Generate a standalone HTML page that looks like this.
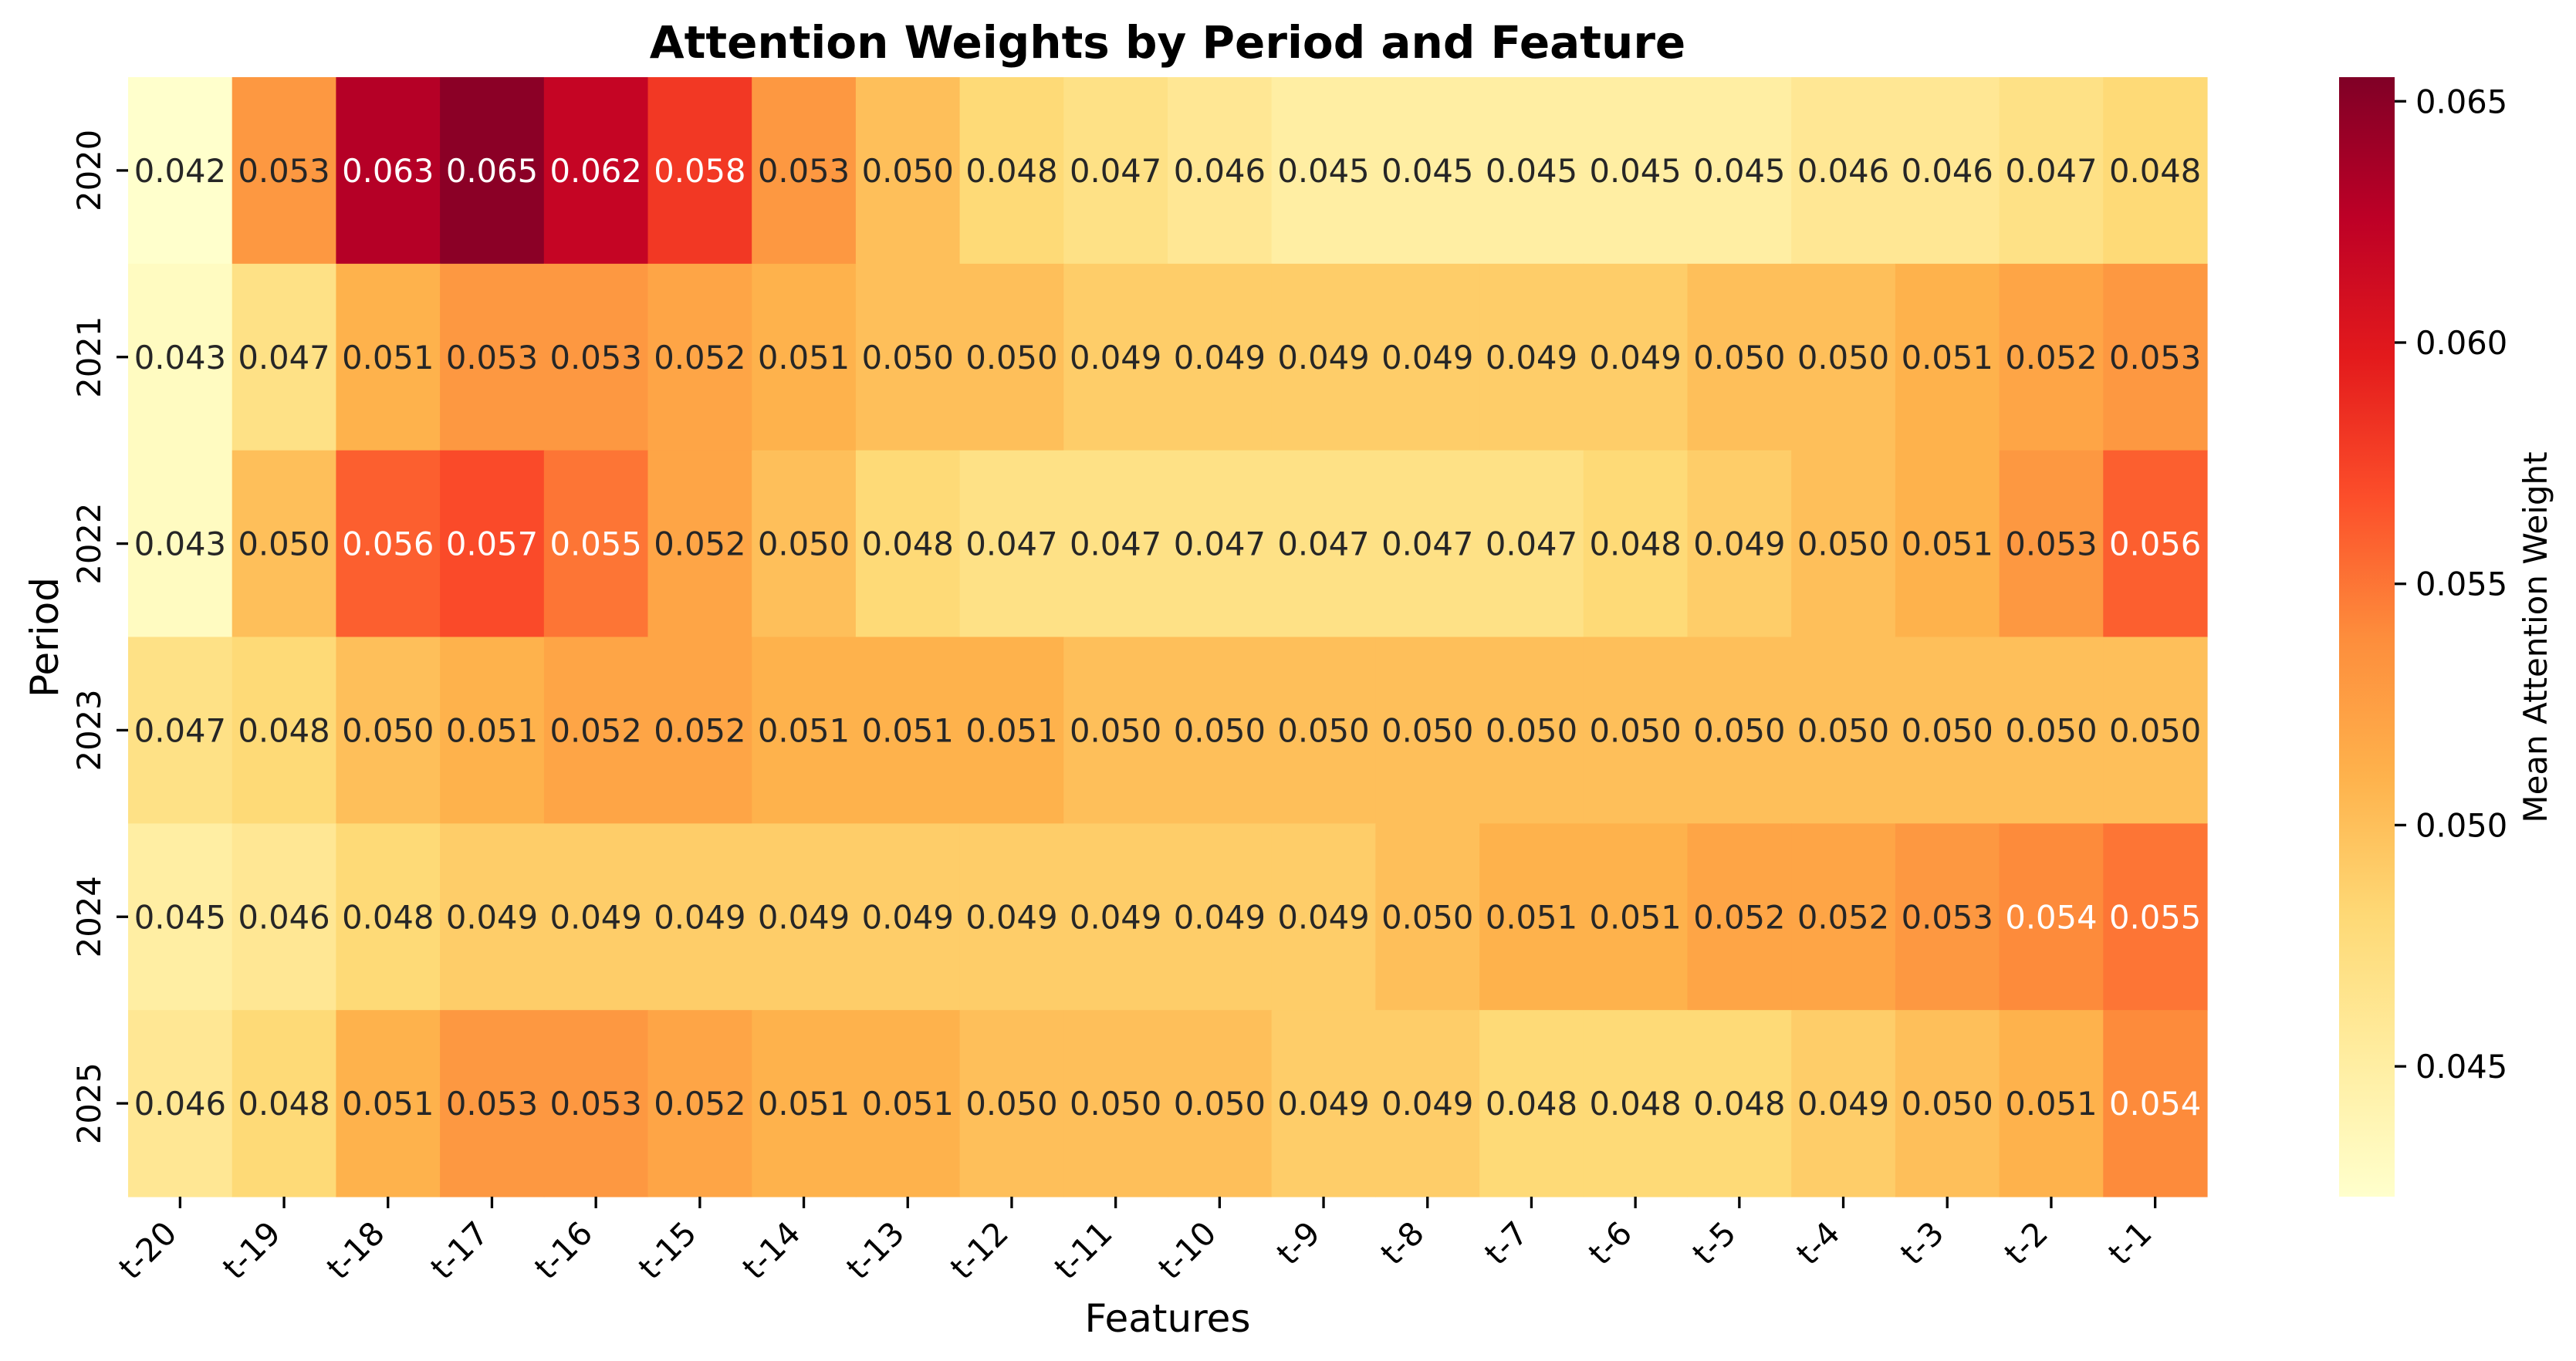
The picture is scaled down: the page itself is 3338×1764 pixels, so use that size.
<!DOCTYPE html>
<html><head><meta charset="utf-8">
<style>
html,body{margin:0;padding:0;background:#fff;}
svg{display:block;font-family:"DejaVu Sans","Liberation Sans",sans-serif;}
</style></head>
<body>
<svg id="chart" width="3338" height="1764" viewBox="0 0 3338 1764" xmlns="http://www.w3.org/2000/svg">
<defs>
<linearGradient id="cbgrad" x1="0" y1="1" x2="0" y2="0">
<stop offset="0" stop-color="#ffffcc"/><stop offset="0.125" stop-color="#ffeda0"/><stop offset="0.25" stop-color="#fed976"/><stop offset="0.375" stop-color="#feb24c"/><stop offset="0.5" stop-color="#fd8d3c"/><stop offset="0.625" stop-color="#fc4e2a"/><stop offset="0.75" stop-color="#e31a1c"/><stop offset="0.875" stop-color="#bd0026"/><stop offset="1" stop-color="#800026"/>
</linearGradient>
</defs>
<text x="1513" y="75" text-anchor="middle" font-size="58" font-weight="bold">Attention Weights by Period and Feature</text>
<g id="cells"></g>
<g id="xticks"></g>
<g id="yticks"></g>
<text x="1513" y="1726" text-anchor="middle" font-size="50">Features</text>
<text transform="translate(75,826) rotate(-90)" text-anchor="middle" font-size="50">Period</text>
<rect x="3031" y="100" width="72" height="1451" fill="url(#cbgrad)"/>
<g id="cbticks"></g>
<text transform="translate(3300,826) rotate(-90)" text-anchor="middle" font-size="42">Mean Attention Weight</text>
</svg>
<script>
const features = ["t-20","t-19","t-18","t-17","t-16","t-15","t-14","t-13","t-12","t-11","t-10","t-9","t-8","t-7","t-6","t-5","t-4","t-3","t-2","t-1"];
const periods = ["2020","2021","2022","2023","2024","2025"];
const row2020 = [0.042,0.053,0.063,0.065,0.062,0.058,0.053,0.050,0.048,0.047,0.046,0.045,0.045,0.045,0.045,0.045,0.046,0.046,0.047,0.048];
const row2021 = [0.043,0.047,0.051,0.053,0.053,0.052,0.051,0.050,0.050,0.049,0.049,0.049,0.049,0.049,0.049,0.050,0.050,0.051,0.052,0.053];
const row2022 = [0.043,0.050,0.056,0.057,0.055,0.052,0.050,0.048,0.047,0.047,0.047,0.047,0.047,0.047,0.048,0.049,0.050,0.051,0.053,0.056];
const row2023 = [0.047,0.048,0.050,0.051,0.052,0.052,0.051,0.051,0.051,0.050,0.050,0.050,0.050,0.050,0.050,0.050,0.050,0.050,0.050,0.050];
const row2024 = [0.045,0.046,0.048,0.049,0.049,0.049,0.049,0.049,0.049,0.049,0.049,0.049,0.050,0.051,0.051,0.052,0.052,0.053,0.054,0.055];
const row2025 = [0.046,0.048,0.051,0.053,0.053,0.052,0.051,0.051,0.050,0.050,0.050,0.049,0.049,0.048,0.048,0.048,0.049,0.050,0.051,0.054];
const colorTicks = [0.045,0.050,0.055,0.060,0.065];
const vmin = 0.0423, vmax = 0.0655;

const rows = [row2020,row2021,row2022,row2023,row2024,row2025];
const NS = "http://www.w3.org/2000/svg";
const L = 166, T = 100, R = 2860, B = 1551;
const cw = (R - L) / features.length, ch = (B - T) / periods.length;
const xPos = i => L + i * cw;
const yPos = j => T + j * ch;
const cbY = v => B - (v - vmin) / (vmax - vmin) * (B - T);
const stops = ["#ffffcc","#ffeda0","#fed976","#feb24c","#fd8d3c","#fc4e2a","#e31a1c","#bd0026","#800026"].map(h => [parseInt(h.slice(1,3),16),parseInt(h.slice(3,5),16),parseInt(h.slice(5,7),16)]);
function cmap(v){
  let t = Math.max(0, Math.min(1, (v - vmin) / (vmax - vmin))) * (stops.length - 1);
  let i = Math.min(stops.length - 2, Math.floor(t)), f = t - i;
  return stops[i].map((c,k) => Math.round(c + (stops[i+1][k] - c) * f));
}
function lum(rgb){
  const l = rgb.map(c => { c /= 255; return c <= 0.03928 ? c / 12.92 : Math.pow((c + 0.055) / 1.055, 2.4); });
  return 0.2126*l[0] + 0.7152*l[1] + 0.0722*l[2];
}
function mk(tag, attrs, parent){ const e = document.createElementNS(NS, tag); for (const k in attrs) e.setAttribute(k, attrs[k]); parent.appendChild(e); return e; }
const cells = document.getElementById("cells");
rows.forEach((row, j) => {
  row.forEach((v, i) => {
    const rgb = cmap(v);
    const r = mk("rect", {x: xPos(i), y: yPos(j), width: cw + 0.6, height: ch + 0.6, fill: `rgb(${rgb.join(",")})`}, cells);
    
    
    const t = mk("text", {x: xPos(i) + cw/2, y: yPos(j) + ch/2 + 15, "text-anchor": "middle", "font-size": 41.67, fill: lum(rgb) > 0.408 ? "#262626" : "#ffffff"}, cells);
    
    
    t.textContent = v.toFixed(3);
  });
});
const xg = document.getElementById("xticks");
features.forEach((f, i) => {
  const cx = xPos(i) + cw/2;
  const tk = mk("line", {x1: cx, y1: B, x2: cx, y2: B + 15, stroke: "#000", "stroke-width": 3.3}, xg);
  
  
  const t = mk("text", {transform: `translate(${cx - 2},${B + 50}) rotate(-45)`, "text-anchor": "end", "font-size": 41.67}, xg);
  
  
  t.textContent = f;
});
const yg = document.getElementById("yticks");
periods.forEach((p, j) => {
  const cy = yPos(j) + ch/2;
  const tk = mk("line", {x1: L - 15, y1: cy, x2: L, y2: cy, stroke: "#000", "stroke-width": 3.3}, yg);
  
  
  const t = mk("text", {transform: `translate(130,${cy}) rotate(-90)`, "text-anchor": "middle", "font-size": 41.67}, yg);
  
  
  t.textContent = p;
});
const cg = document.getElementById("cbticks");
colorTicks.forEach(v => {
  const y = cbY(v);
  const tk = mk("line", {x1: 3103, y1: y, x2: 3118, y2: y, stroke: "#000", "stroke-width": 3.3}, cg);
  
  
  const t = mk("text", {x: 3130, y: y + 15, "font-size": 41.67}, cg);
  
  
  t.textContent = v.toFixed(3);
});
</script>
</body></html>
